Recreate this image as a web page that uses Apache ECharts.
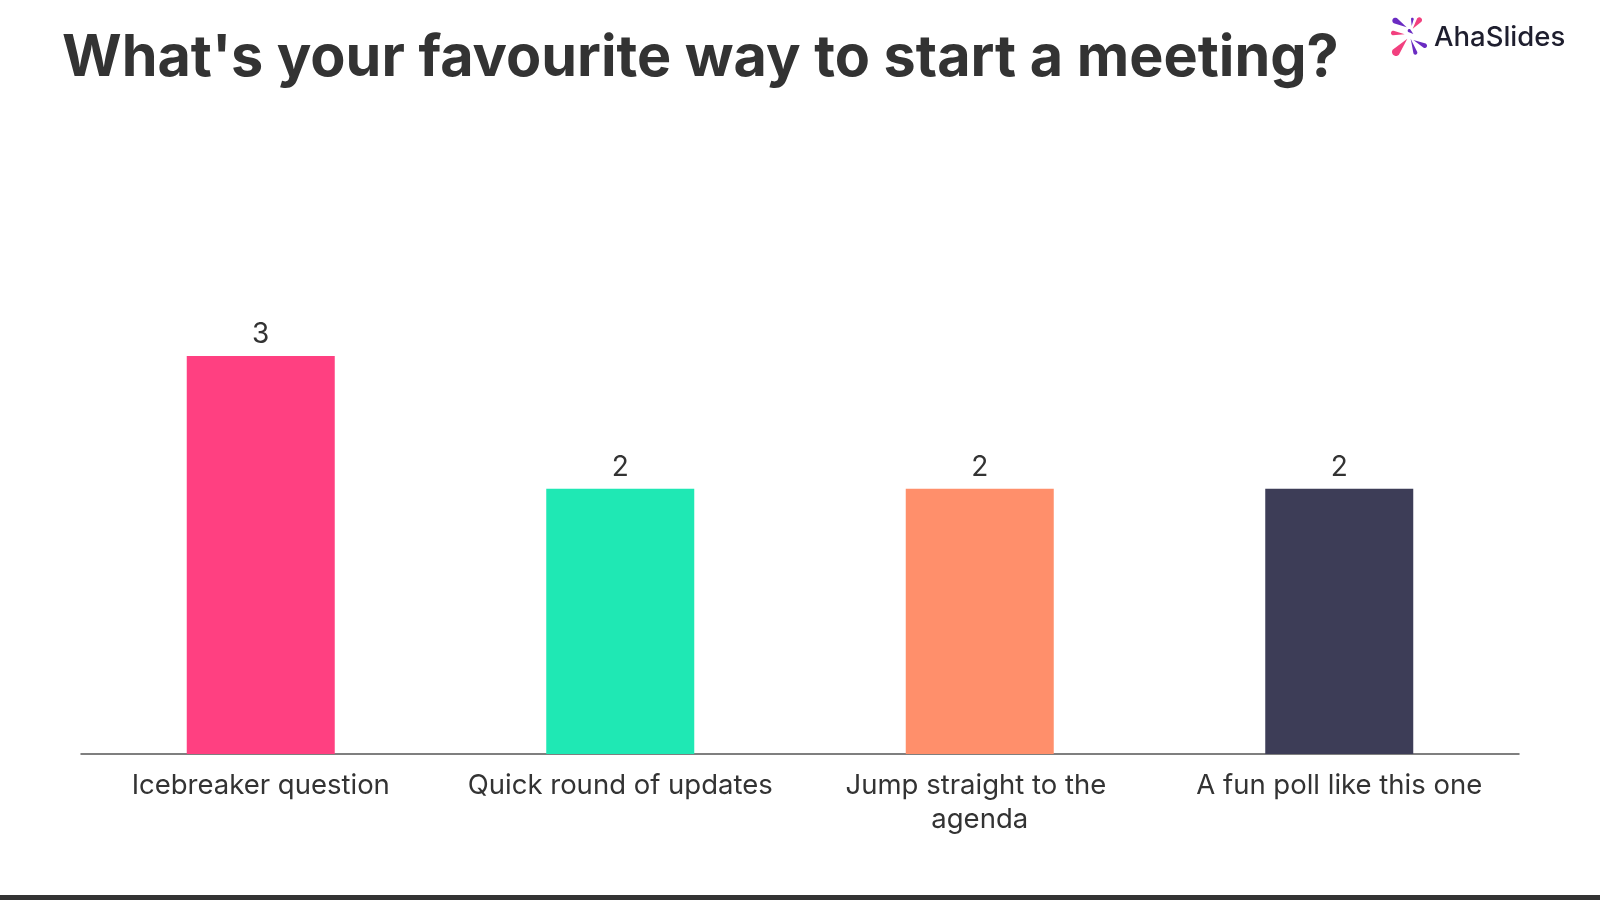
<!DOCTYPE html>
<html>
<head>
<meta charset="utf-8">
<script src="https://cdn.jsdelivr.net/npm/echarts@6/dist/echarts.min.js"></script>
<style>
html,body{margin:0;padding:0;background:#fff;}
#chart{width:1600px;height:900px;}
</style>
</head>
<body>
<div id="chart"></div>
<script>
const titleText = "What's your favourite way to start a meeting?";
const categories = ["Icebreaker question", "Quick round of updates", "Jump straight to the agenda", "A fun poll like this one"];
const votes = [3, 2, 2, 2];
const barColors = ["#FF4081", "#1FE8B4", "#FF8F6B", "#3D3D57"];

const FONT = "Inter, 'Noto Sans', sans-serif";

function drop(hx, hy, r, tx, ty, color) {
  const dx = hx - tx, dy = hy - ty;
  const ang = Math.atan2(dy, dx);
  const pts = [[tx, ty]];
  const n = 24;
  for (let i = 0; i <= n; i++) {
    const a = ang - Math.PI / 2 + Math.PI * i / n;
    pts.push([hx + r * Math.cos(a), hy + r * Math.sin(a)]);
  }
  return { type: 'polygon', shape: { points: pts }, style: { fill: color } };
}

const PURPLE = "#6A2BC2", PINK = "#F2407F";
const iconParts = [
  drop(46, 32, 9, 80, 52, PURPLE),
  drop(118, 30, 8, 98, 56, PINK),
  drop(97, 27, 4, 95, 48, PURPLE),
  drop(88, 62, 5, 100, 72, PURPLE),
  drop(40, 69, 7, 74, 73, PINK),
  drop(48, 126, 12, 82, 86, PINK),
  drop(106, 128, 6, 92, 86, PURPLE),
  drop(134, 107, 7, 100, 90, PURPLE)
];

const chart = echarts.init(document.getElementById('chart'), null, { renderer: 'canvas' });
chart.setOption({
  backgroundColor: '#ffffff',
  animation: false,
  title: {
    text: titleText,
    left: 57,
    top: 25,
    textStyle: { fontFamily: FONT, fontSize: 57.5, fontWeight: 'bold', color: '#333333' }
  },
  grid: { left: 81, right: 81, top: 356, bottom: 146, containLabel: false },
  xAxis: {
    type: 'category',
    data: categories,
    axisLine: { show: true, lineStyle: { color: '#555555', width: 1.5 } },
    axisTick: { show: false },
    axisLabel: {
      interval: 0,
      margin: 15,
      fontFamily: FONT,
      fontSize: 27.5,
      color: '#333333',
      lineHeight: 34,
      width: 330,
      overflow: 'break'
    }
  },
  yAxis: {
    type: 'value',
    min: 0,
    max: 3,
    show: false,
    splitLine: { show: false }
  },
  series: [{
    type: 'bar',
    data: votes.map((v, i) => ({ value: v, itemStyle: { color: barColors[i] } })),
    barWidth: 148,
    label: {
      show: true,
      position: 'top',
      distance: 7,
      fontFamily: FONT,
      fontSize: 28,
      color: '#333333'
    }
  }],
  graphic: [
    {
      type: 'group',
      x: 1380,
      y: 10,
      scaleX: 1 / 3,
      scaleY: 1 / 3,
      children: iconParts
    },
    {
      type: 'text',
      x: 1434,
      y: 38,
      style: {
        text: 'AhaSlides',
        fontFamily: FONT,
        fontSize: 27.5,
        fontWeight: 500,
        fill: '#1E1E2E',
        verticalAlign: 'middle',
        align: 'left'
      }
    },
    {
      type: 'rect',
      shape: { x: 0, y: 895, width: 1600, height: 5 },
      style: { fill: '#333333' }
    }
  ]
});
</script>
</body>
</html>
